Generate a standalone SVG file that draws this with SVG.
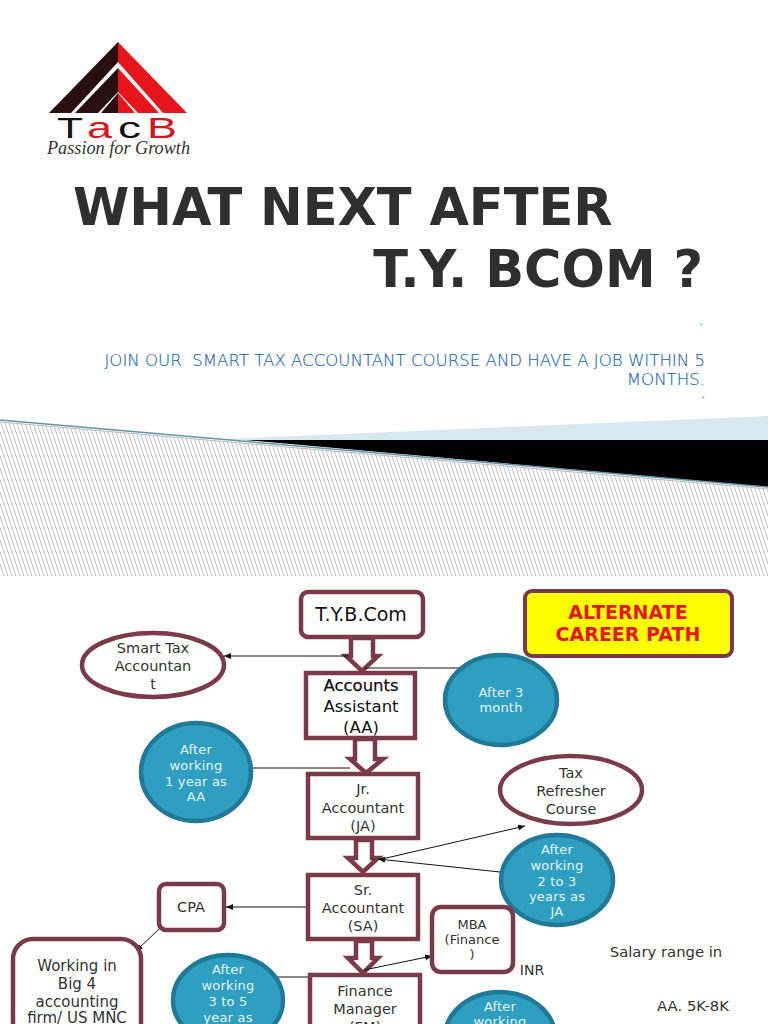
<svg xmlns="http://www.w3.org/2000/svg" width="768" height="1024" viewBox="0 0 768 1024">
<style>
text{font-family:"DejaVu Sans",sans-serif;text-anchor:middle;fill:#333}
.n{fill:#fff;stroke:#7b3a4c;stroke-width:4.5}
.c{fill:#2e9fc0;stroke:#21799a;stroke-width:4.5}
.w{fill:#e6f3f5;font-size:13px;letter-spacing:.2px}
.t{font-size:14.5px}
.b4{font-size:15px}
.aa{font-size:16.5px;fill:#111}
.ba{fill:#fff;stroke:#7b3a4c;stroke-width:4.5;stroke-linejoin:miter}
.l{fill:none;stroke:#111;stroke-width:1}
.a{fill:none;stroke:#111;stroke-width:1;marker-end:url(#ah)}
.sub{text-anchor:end;font-family:'DejaVu Sans Light','DejaVu Sans',sans-serif;font-weight:200;font-size:16.6px;fill:#1565b0;stroke:#1565b0;stroke-width:.15;white-space:pre}
.tt{font-weight:bold;font-size:51px;fill:#2f2f2f;white-space:pre}
.lg{font-family:'Liberation Sans',sans-serif;font-size:29px;text-anchor:start}
</style>
<defs>
<marker id="ah" markerWidth="8" markerHeight="6" refX="7" refY="3" orient="auto" markerUnits="userSpaceOnUse"><path d="M0 0L7 3L0 6z" fill="#111"/></marker>
<pattern id="hatch" width="4" height="12" patternUnits="userSpaceOnUse"><rect width="4" height="12" fill="#fff"/><path d="M0 0L4 12M-4 0L0 12M4 0L8 12" stroke="#c4c4c4" stroke-width="1"/></pattern>
</defs>
<rect width="768" height="1024" fill="#fff"/>
<g id="logo">
<path d="M118 42L49 113H71L118 62z" fill="#2a0f10"/>
<path d="M118 42L187 113H163L118 62z" fill="#e8141c"/>
<path d="M118 68L75 113H98L118 92z" fill="#2a0f10"/>
<path d="M118 68L159 113H138L118 92z" fill="#e8141c"/>
<path d="M118 93L101 113H118z" fill="#2a0f10"/>
<path d="M118 93L135 113H118z" fill="#e8141c"/>
<text class="lg" x="57" y="138" textLength="26" lengthAdjust="spacingAndGlyphs" style="fill:#111">T</text>
<text class="lg" x="87" y="138" textLength="25" lengthAdjust="spacingAndGlyphs" style="fill:#d8141c">a</text>
<text class="lg" x="118" y="138" textLength="23" lengthAdjust="spacingAndGlyphs" style="fill:#111">c</text>
<text class="lg" x="147" y="138" textLength="30" lengthAdjust="spacingAndGlyphs" style="fill:#d8141c">B</text>
<text x="47" y="154" textLength="143" lengthAdjust="spacingAndGlyphs" style="text-anchor:start;font-family:'Liberation Serif',serif;font-style:italic;font-size:18px;fill:#333">Passion for Growth</text>
</g>
<g id="title">
<text class="tt" x="73" y="225" style="text-anchor:start">WHAT NEXT AFTER</text>
<text class="tt" x="703" y="287" style="text-anchor:end">T.Y. BCOM ?</text>
<text x="703" y="325" style="text-anchor:end;font-size:11px;fill:#2a7fb8">.</text>
<text class="sub" x="705" y="366">JOIN OUR  SMART TAX ACCOUNTANT COURSE AND HAVE A JOB WITHIN 5</text>
<text class="sub" x="705" y="385">MONTHS.</text>
<text x="705" y="398" style="text-anchor:end;font-size:11px;fill:#2a7fb8">.</text>
</g>
<g id="banner">
<path d="M225 439L768 416V440H225z" fill="#d8e8ef"/>
<path d="M245 440H768V487z" fill="#000"/>
<path d="M0 422L768 488V576H0z" fill="url(#hatch)"/>
<path d="M0 420L768 487" fill="none" stroke="#5e96a8" stroke-width="1.5"/>
<path d="M0 422L768 489" fill="none" stroke="#bbb" stroke-width="1"/>
</g>
<g id="connectors">
<path class="ba" d="M351 638V656H346L362 671L378 656H373V638z"/>
<path class="ba" d="M355 739V759H350L366 773L383 759H375V739z"/>
<path class="ba" d="M356 840V858H348L363 872L378 858H372V840z"/>
<path class="ba" d="M356 941V958H348L363 973L378 958H372V941z"/>
<path class="a" d="M348 656H224"/>
<path class="l" d="M365 668H460"/>
<path class="l" d="M252 768H350"/>
<path class="a" d="M382 859L525 826"/>
<path class="a" d="M500 872L378 859"/>
<path class="a" d="M308 907H226"/>
<path class="a" d="M160 928L136 951"/>
<path class="a" d="M364 970L432 956"/>
<path class="l" d="M277 977H353"/>
</g>
<g id="n-tyb"><rect class="n" x="301" y="592" width="122" height="45" rx="7"/><text x="361" y="621" style="font-size:19px;fill:#111">T.Y.B.Com</text></g>
<g id="n-alt"><rect x="525" y="591" width="207" height="65" rx="7" fill="#ffff00" stroke="#7b3a4c" stroke-width="4"/><text x="628" y="619" style="font-size:19px;font-weight:bold;fill:#e8141c">ALTERNATE</text><text x="628" y="641" style="font-size:19px;font-weight:bold;fill:#e8141c">CAREER PATH</text></g>
<g id="n-smart"><ellipse class="n" cx="153" cy="665" rx="71" ry="32"/><text class="t" x="153" y="653">Smart Tax</text><text class="t" x="153" y="671">Accountan</text><text class="t" x="153" y="689">t</text></g>
<g id="n-aa"><rect class="n" x="306" y="673" width="109" height="65"/><text class="aa" x="361" y="691" style="stroke:#111;stroke-width:.25">Accounts</text><text class="aa" x="361" y="712">Assistant</text><text class="aa" x="361" y="733">(AA)</text></g>
<g id="n-3m"><ellipse class="c" cx="501" cy="700" rx="56" ry="45"/><text class="w" x="501" y="697">After 3</text><text class="w" x="501" y="712">month</text></g>
<g id="n-1y"><ellipse class="c" cx="196" cy="772" rx="55" ry="49"/><text class="w" x="196" y="754">After</text><text class="w" x="196" y="770">working</text><text class="w" x="196" y="786">1 year as</text><text class="w" x="196" y="801">AA</text></g>
<g id="n-ja"><rect class="n" x="308" y="774" width="110" height="64"/><text class="t" x="363" y="794">Jr.</text><text class="t" x="363" y="813">Accountant</text><text class="t" x="363" y="831">(JA)</text></g>
<g id="n-tax"><ellipse class="n" cx="571" cy="790" rx="71" ry="34"/><text class="t" x="571" y="778">Tax</text><text class="t" x="571" y="796">Refresher</text><text class="t" x="571" y="814">Course</text></g>
<g id="n-2y"><ellipse class="c" cx="557" cy="880" rx="56" ry="45"/><text class="w" x="557" y="854">After</text><text class="w" x="557" y="870">working</text><text class="w" x="557" y="886">2 to 3</text><text class="w" x="557" y="901">years as</text><text class="w" x="557" y="916">JA</text></g>
<g id="n-sa"><rect class="n" x="308" y="875" width="110" height="64"/><text class="t" x="363" y="895">Sr.</text><text class="t" x="363" y="913">Accountant</text><text class="t" x="363" y="931">(SA)</text></g>
<g id="n-cpa"><rect class="n" x="159" y="884" width="65" height="46" rx="7"/><text class="t" x="191" y="912">CPA</text></g>
<g id="n-mba"><rect class="n" x="432" y="907" width="81" height="65" rx="9"/><text x="472" y="929" style="font-size:13px">MBA</text><text x="472" y="944" style="font-size:13px">(Finance</text><text x="472" y="959" style="font-size:13px">)</text></g>
<g id="n-big4"><rect class="n" x="13" y="939" width="128" height="110" rx="20"/><text class="b4" x="77" y="971">Working in</text><text class="b4" x="77" y="989">Big 4</text><text class="b4" x="77" y="1007">accounting</text><text class="b4" x="77" y="1023">firm/ US MNC</text></g>
<g id="n-3y"><ellipse class="c" cx="228" cy="1000" rx="55" ry="45"/><text class="w" x="228" y="974">After</text><text class="w" x="228" y="990">working</text><text class="w" x="228" y="1006">3 to 5</text><text class="w" x="228" y="1022">year as</text></g>
<g id="n-fm"><rect class="n" x="310" y="975" width="110" height="70"/><text class="t" x="365" y="996">Finance</text><text class="t" x="365" y="1014">Manager</text><text class="t" x="365" y="1032">(FM)</text></g>
<g id="n-after"><ellipse class="c" cx="500" cy="1037" rx="55" ry="45"/><text class="w" x="500" y="1011">After</text><text class="w" x="500" y="1026">working</text></g>
<g id="labels"><text x="532" y="975" style="font-size:14px">INR</text><text x="666" y="957" style="font-size:14.8px">Salary range in</text><text x="693" y="1011" style="font-size:14.8px">AA. 5K-8K</text></g>
</svg>
